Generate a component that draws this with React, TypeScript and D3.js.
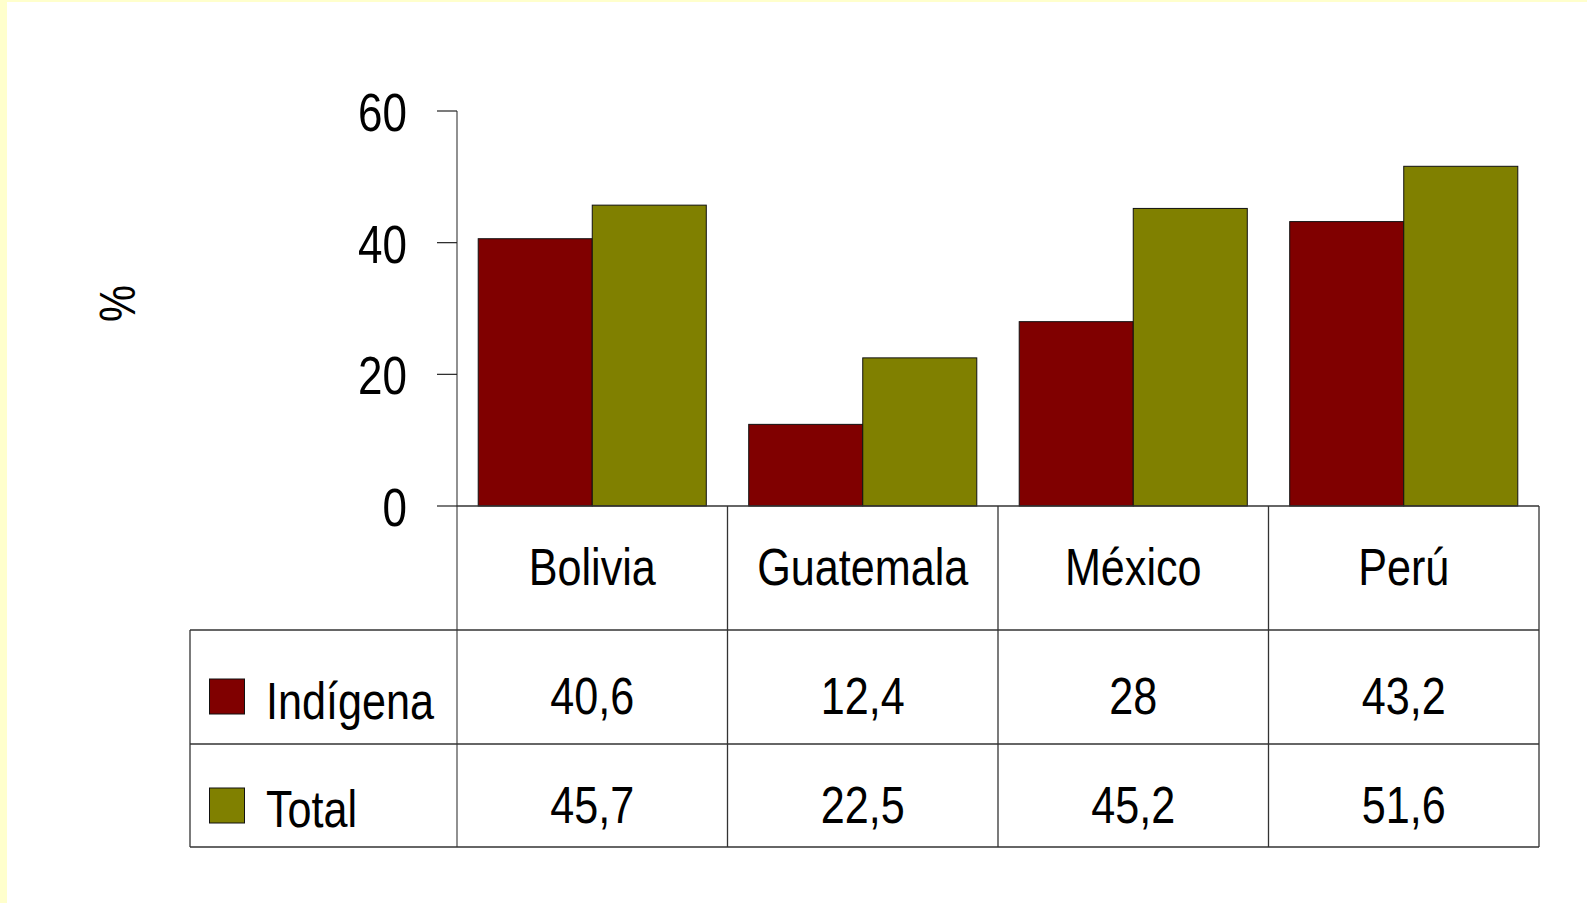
import React from "react";
import * as d3 from "d3";

const countries = ["Bolivia", "Guatemala", "México", "Perú"];
const seriesNames = ["Indígena", "Total"];
const indigena = [40.6, 12.4, 28, 43.2];
const total = [45.7, 22.5, 45.2, 51.6];
const indigenaLabels = ["40,6", "12,4", "28", "43,2"];
const totalLabels = ["45,7", "22,5", "45,2", "51,6"];
const yTicks = [0, 20, 40, 60];
const colors = ["#800000", "#808000"];

const W = 1587;
const H = 903;
const FONT = "'Liberation Sans Narrow', 'Arial Narrow', 'Liberation Sans', Arial, sans-serif";
const SX = 0.83;
const FS = 52;

function T(props: { x: number; y: number; anchor?: string; size?: number; rotate?: number; children: React.ReactNode }) {
  const { x, y, anchor = "start", size = FS, rotate = 0, children } = props;
  return (
    <text
      transform={`translate(${x},${y}) rotate(${rotate}) scale(${SX},1)`}
      textAnchor={anchor}
      fontSize={size}
      fill="#000"
    >
      {children}
    </text>
  );
}

export default function App() {
  const y = d3.scaleLinear().domain([0, 60]).range([506, 111]);
  const x0 = d3.scaleBand<string>().domain(countries).range([457, 1539]).paddingInner(0).paddingOuter(0);
  const x1 = d3.scaleBand<string>().domain(seriesNames).range([0, x0.bandwidth()]).paddingInner(0).paddingOuter(0.186);
  const values = [indigena, total];
  const labels = [indigenaLabels, totalLabels];

  const tableLeft = 190;
  const tableRight = 1539;
  const axisX = 457;
  const headerTop = 506;
  const row1Top = 630;
  const row2Top = 744;
  const tableBottom = 847;
  const rowBaselines = [713.5, 823];
  const swatchTops = [679, 788];
  const legendBaselines = [719, 826.5];
  const lineColor = "#333";

  return (
    <div style={{ position: "absolute", left: 0, top: 0, margin: 0 }}>
      <svg width={W} height={H} style={{ display: "block" }} fontFamily={FONT}>
        <rect x={0} y={0} width={W} height={H} fill="#ffffff" />
        <rect x={0} y={0} width={7} height={H} fill="#FFFFCC" />
        <rect x={0} y={0} width={W} height={2} fill="#FFFFCC" />

        {/* y axis */}
        <line x1={axisX} x2={axisX} y1={y(60)} y2={tableBottom} stroke="#555" strokeWidth={1.3} />
        {yTicks.map((t) => (
          <g key={t}>
            <line x1={437} x2={axisX} y1={y(t)} y2={y(t)} stroke="#222" strokeWidth={1.2} />
            <T x={407} y={y(t) + 20} anchor="end" size={53}>
              {t}
            </T>
          </g>
        ))}
        <T x={135} y={303.6} anchor="middle" size={50} rotate={-90}>
          %
        </T>

        {/* bars */}
        {countries.map((c, i) => (
          <g key={c} transform={`translate(${x0(c)},0)`}>
            {seriesNames.map((s, k) => (
              <rect
                key={s}
                x={x1(s)}
                y={y(values[k][i])}
                width={x1.bandwidth()}
                height={y(0) - y(values[k][i])}
                fill={colors[k]}
                stroke="#111"
                strokeWidth={1}
              />
            ))}
          </g>
        ))}

        {/* table lines */}
        <line x1={axisX} x2={tableRight} y1={headerTop} y2={headerTop} stroke={lineColor} strokeWidth={1.3} />
        <line x1={tableLeft} x2={tableRight} y1={row1Top} y2={row1Top} stroke={lineColor} strokeWidth={1.3} />
        <line x1={tableLeft} x2={tableRight} y1={row2Top} y2={row2Top} stroke={lineColor} strokeWidth={1.3} />
        <line x1={tableLeft} x2={tableRight} y1={tableBottom} y2={tableBottom} stroke={lineColor} strokeWidth={1.3} />
        <line x1={tableLeft} x2={tableLeft} y1={row1Top} y2={tableBottom} stroke={lineColor} strokeWidth={1.3} />
        {countries.map((c) => (
          <line
            key={c}
            x1={(x0(c) as number) + x0.bandwidth()}
            x2={(x0(c) as number) + x0.bandwidth()}
            y1={headerTop}
            y2={tableBottom}
            stroke={lineColor}
            strokeWidth={1.3}
          />
        ))}

        {/* category labels */}
        {countries.map((c) => (
          <T key={c} x={(x0(c) as number) + x0.bandwidth() / 2} y={585} anchor="middle">
            {c}
          </T>
        ))}

        {/* legend rows */}
        {seriesNames.map((s, k) => (
          <g key={s}>
            <rect x={209.5} y={swatchTops[k]} width={35} height={35} fill={colors[k]} stroke="#111" strokeWidth={1} />
            <T x={266} y={legendBaselines[k]}>
              {s}
            </T>
            {countries.map((c, i) => (
              <T key={c} x={(x0(c) as number) + x0.bandwidth() / 2} y={rowBaselines[k]} anchor="middle">
                {labels[k][i]}
              </T>
            ))}
          </g>
        ))}
      </svg>
    </div>
  );
}
